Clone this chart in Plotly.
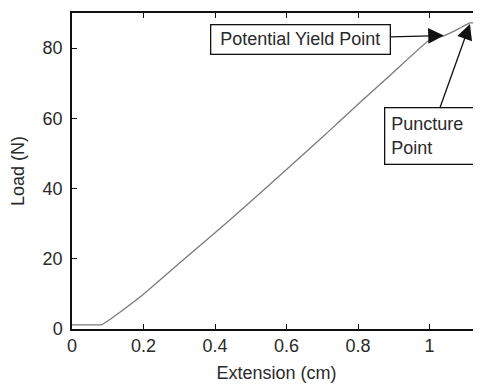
import plotly.graph_objects as go

extension_cm = [0.0, 0.02, 0.05, 0.083, 0.1, 0.15, 0.2, 0.3, 0.4, 0.5, 0.6, 0.7, 0.75, 0.8, 0.9, 1.0, 1.04, 1.08, 1.113, 1.13, 1.15]
load_n = [1.2, 1.2, 1.2, 1.2, 2.3, 6.0, 9.9, 18.7, 27.4, 36.3, 45.4, 54.6, 59.3, 64.0, 73.2, 82.3, 83.5, 85.4, 87.2, 87.1, 87.0]

x_ticks = [0, 0.2, 0.4, 0.6, 0.8, 1]
x_tick_text = ["0", "0.2", "0.4", "0.6", "0.8", "1"]
y_ticks = [0, 20, 40, 60, 80]
y_tick_text = ["0", "20", "40", "60", "80"]

yield_pt = (1.04, 83.6)
puncture_pt = (1.113, 86.9)

FONT = "Liberation Sans, Arial, sans-serif"
TXT = "#2a2a2a"

fig = go.Figure()
fig.add_trace(go.Scatter(
    x=extension_cm, y=load_n, mode="lines",
    line=dict(color="#7a7a7a", width=1.3, shape="spline", smoothing=0.4),
    showlegend=False, hoverinfo="skip",
))

fig.add_annotation(
    x=yield_pt[0], y=yield_pt[1], xref="x", yref="y",
    text="Potential Yield Point", showarrow=True,
    ax=-143, ay=4, arrowhead=2, arrowsize=2.4, arrowwidth=1.3, arrowcolor="#111",
    font=dict(family=FONT, size=18, color=TXT),
    bordercolor="#111", borderwidth=1.3, borderpad=4, bgcolor="white",
    width=170,
)
fig.add_annotation(
    x=puncture_pt[0], y=puncture_pt[1], xref="x", yref="y",
    text="Puncture<br>Point", showarrow=True, align="left",
    ax=-40, ay=112, arrowhead=2, arrowsize=2.4, arrowwidth=1.3, arrowcolor="#111",
    font=dict(family=FONT, size=18, color=TXT),
    bordercolor="#111", borderwidth=1.3, borderpad=6, bgcolor="white",
    width=77,
)

fig.update_layout(
    width=473, height=378,
    margin=dict(l=64, r=0, t=5, b=57, autoexpand=False),
    paper_bgcolor="white", plot_bgcolor="white",
    font=dict(family=FONT, size=18, color=TXT),
    xaxis=dict(
        range=[0, 1.144], tickmode="array", tickvals=x_ticks, ticktext=x_tick_text,
        ticks="inside", ticklen=5, tickwidth=1.3, tickcolor="#111",
        showline=True, linecolor="#111", linewidth=1.5, mirror="ticks",
        showgrid=False, zeroline=False, automargin=False,
        title=dict(text="Extension (cm)", standoff=11, font=dict(size=18)),
        tickfont=dict(size=18),
    ),
    yaxis=dict(
        range=[0, 90], tickmode="array", tickvals=y_ticks, ticktext=y_tick_text,
        ticks="inside", ticklen=5, tickwidth=1.3, tickcolor="#111",
        showline=True, linecolor="#111", linewidth=1.5,
        showgrid=False, zeroline=False, automargin=False,
        ticklabelstandoff=4,
        title=dict(text="Load (N)", standoff=14, font=dict(size=18)),
        tickfont=dict(size=18),
    ),
)

fig.write_html("out.html")
